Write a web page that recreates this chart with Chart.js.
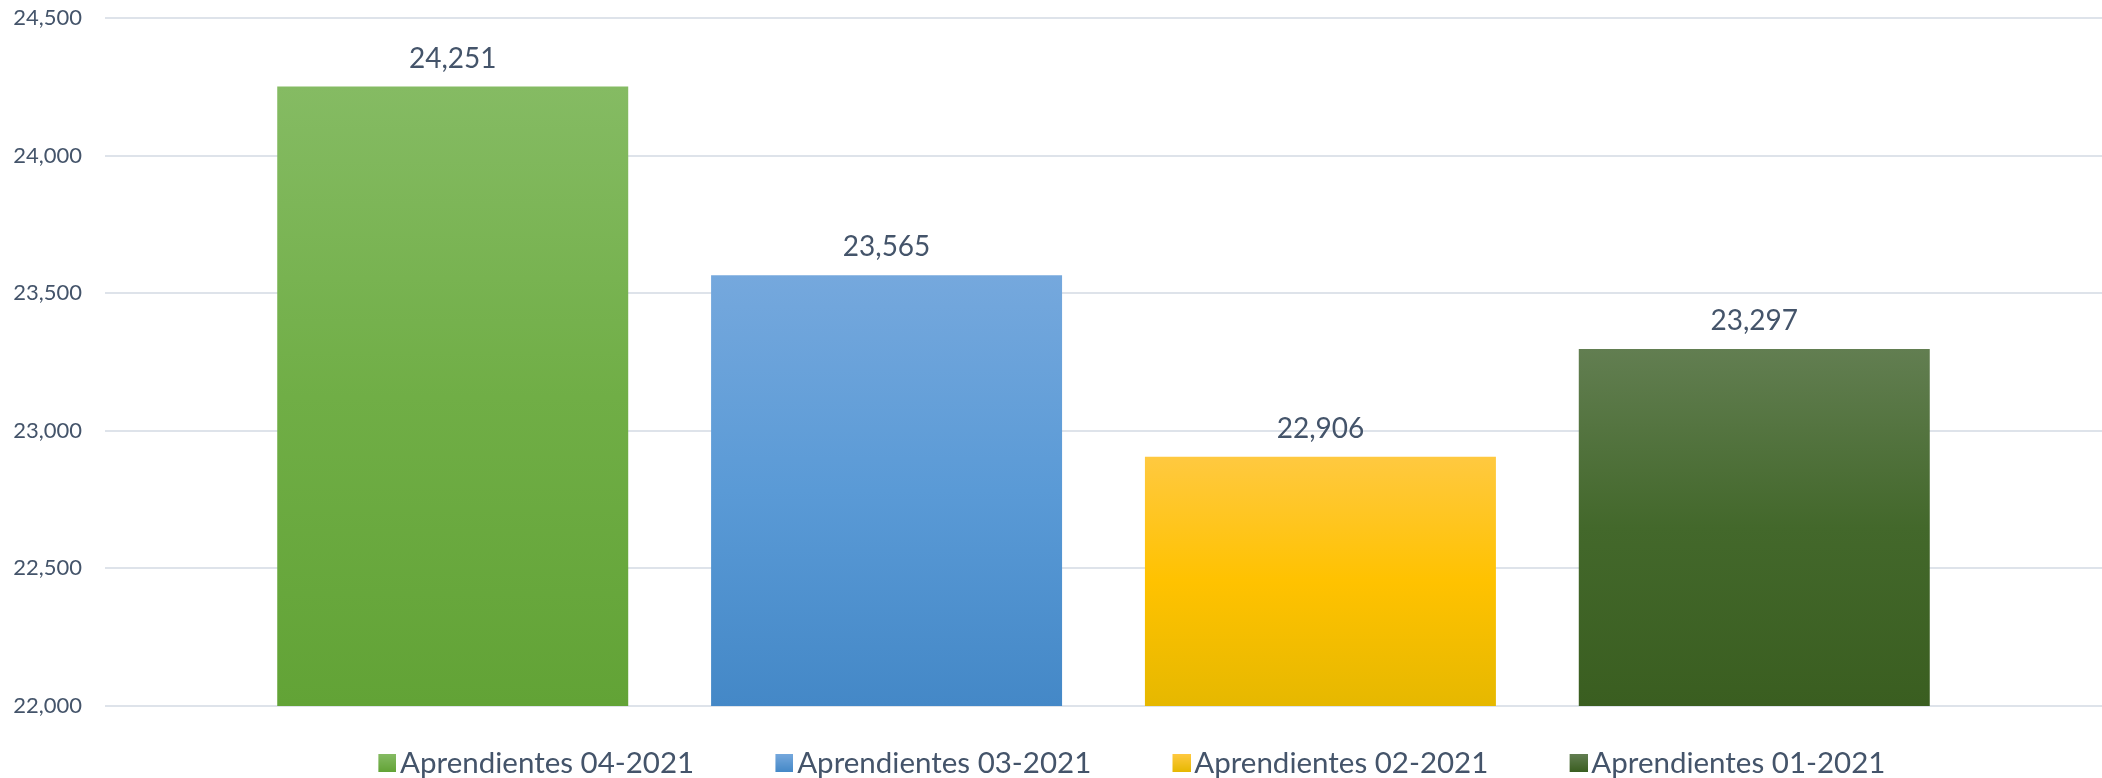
<!DOCTYPE html>
<html>
<head>
<meta charset="utf-8">
<script src="https://cdn.jsdelivr.net/npm/chart.js@4.4.1/dist/chart.umd.min.js"></script>
<style>
  html, body { margin: 0; padding: 0; background: #ffffff; }
  #wrap { width: 2102px; height: 778px; }
</style>
</head>
<body>
<div id="wrap"><canvas id="aprendientes_bar"></canvas></div>
<script>
// series shown left to right
var seriesNames = ["Aprendientes 04-2021", "Aprendientes 03-2021", "Aprendientes 02-2021", "Aprendientes 01-2021"];
var seriesValues = [24251, 23565, 22906, 23297];
// gradient colours (top, middle, bottom) for each bar
var barTops = ["#85BB63", "#75A8DD", "#FFC940", "#627E51"];
var barMids = ["#70AE46", "#5A9AD6", "#FFC200", "#43682B"];
var barBottoms = ["#62A336", "#4488C7", "#E6B800", "#3A5E20"];

var yMin = 22000, yMax = 24500, yStep = 500;

var textColor = "#44546A";
var fontFamily = "Lato, 'Open Sans', sans-serif";

var ctx_bar = document.getElementById("aprendientes_bar");

function barGradient(i) {
    return function(context) {
        var chart = context.chart;
        var area = chart.chartArea;
        if (!area || !chart.scales.y) return barMids[i];
        var top = chart.scales.y.getPixelForValue(seriesValues[i]);
        var g = chart.ctx.createLinearGradient(0, top, 0, area.bottom);
        g.addColorStop(0, barTops[i]);
        g.addColorStop(0.5, barMids[i]);
        g.addColorStop(1, barBottoms[i]);
        return g;
    };
}

// small swatch for the legend, square pushed to the right so it sits close to the text
function legendSwatch(i) {
    var c = document.createElement("canvas");
    c.width = 40;
    c.height = 18;
    var cx = c.getContext("2d");
    var g = cx.createLinearGradient(0, 0, 0, 18);
    g.addColorStop(0, barTops[i]);
    g.addColorStop(1, barBottoms[i]);
    cx.fillStyle = g;
    cx.fillRect(22, 0, 18, 18);
    return c;
}

var valueLabels = {
    id: "valueLabels",
    afterDatasetsDraw: function(chart) {
        var ctx = chart.ctx;
        ctx.save();
        ctx.font = "28px " + fontFamily;
        ctx.fillStyle = textColor;
        ctx.textAlign = "center";
        ctx.textBaseline = "middle";
        chart.data.datasets.forEach(function(ds, i) {
            var meta = chart.getDatasetMeta(i);
            meta.data.forEach(function(bar, j) {
                ctx.fillText(ds.data[j].toLocaleString("en-US"), bar.x, bar.y - 28);
            });
        });
        ctx.restore();
    }
};

// legend sits a bit right of and below where chart.js puts it
var legendShift = {
    id: "legendShift",
    afterLayout: function(chart) {
        chart.legend.left += 45;
        chart.legend.right += 45;
        chart.legend.top += 10;
        chart.legend.bottom += 10;
    }
};

bar_chart();

function bar_chart(){

    var datasets = seriesNames.map(function(name, i) {
        return {
            label: name,
            data: [seriesValues[i]],
            backgroundColor: barGradient(i),
            borderWidth: 0,
            categoryPercentage: 0.869,
            barPercentage: 0.809
        };
    });

    var data = {
        labels: [""],
        datasets: datasets
    };

    var options = {
        responsive: true,
        maintainAspectRatio: false,
        animation: false,
        layout: { padding: { top: 18, right: 0, left: 0, bottom: 0 } },
        plugins: {
            legend: {
                position: "bottom",
                fullSize: false,
                labels: {
                    color: textColor,
                    font: { family: fontFamily, size: 29.5 },
                    usePointStyle: true,
                    pointStyleWidth: 18,
                    boxHeight: 18,
                    padding: 26,
                    generateLabels: function(chart) {
                        return seriesNames.map(function(name, i) {
                            return {
                                text: name + "\u2003\u2003",
                                fillStyle: barMids[i],
                                strokeStyle: "rgba(0,0,0,0)",
                                lineWidth: 0,
                                pointStyle: legendSwatch(i),
                                fontColor: textColor,
                                datasetIndex: i,
                                hidden: false
                            };
                        });
                    }
                }
            },
            tooltip: { enabled: false }
        },
        scales: {
            x: {
                grid: { display: false },
                border: { display: false },
                ticks: { display: false },
                afterFit: function(scale) { scale.height = 6.5; }
            },
            y: {
                min: yMin,
                max: yMax,
                ticks: {
                    stepSize: yStep,
                    color: textColor,
                    font: { family: fontFamily, size: 22 },
                    padding: 0,
                    callback: function(v) { return v.toLocaleString("en-US"); }
                },
                grid: { color: "#DEE3EA", lineWidth: 2, drawTicks: true, tickLength: 23, tickColor: "rgba(0,0,0,0)" },
                border: { display: false },
                afterFit: function(scale) { scale.width = 105; }
            }
        }
    };

    var chart = new Chart(ctx_bar, {
        type: "bar",
        data: data,
        options: options,
        plugins: [valueLabels, legendShift]
    });

};
</script>
</body>
</html>
